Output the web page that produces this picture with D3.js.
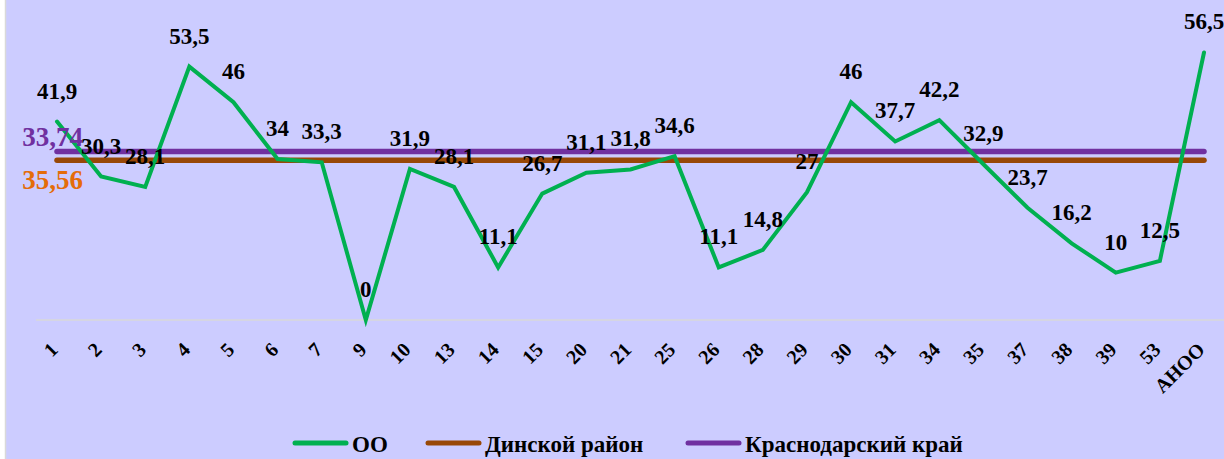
<!DOCTYPE html>
<html>
<head>
<meta charset="utf-8">
<script src="https://cdn.jsdelivr.net/npm/d3@7"></script>
<style>
  html, body { margin: 0; padding: 0; background: #ffffff; }
  svg { display: block; }
</style>
</head>
<body>
<div id="chart"></div>
<script>
// categories (school numbers) and values of the OO series
const categories = ['1', '2', '3', '4', '5', '6', '7', '9', '10', '13', '14', '15', '20', '21', '25',
  '26', '28', '29', '30', '31', '34', '35', '37', '38', '39', '53', 'АНОО'];
const ooValues = [41.9, 30.3, 28.1, 53.5, 46, 34, 33.3, 0, 31.9, 28.1, 11.1, 26.7, 31.1, 31.8, 34.6,
  11.1, 14.8, 27, 46, 37.7, 42.2, 32.9, 23.7, 16.2, 10, 12.5, 56.5];
const districtValue = 33.74;   // Динской район
const regionValue = 35.56;     // Краснодарский край
const seriesNames = ['ОО', 'Динской район', 'Краснодарский край'];
const seriesColors = ['#00b050', '#984807', '#7030a0'];

const width = 1224, height = 459;
const fmt = v => String(v).replace('.', ',');

const svg = d3.select('#chart').append('svg')
  .attr('width', width)
  .attr('height', height);

// chart area background and left border
svg.append('rect')
  .attr('x', 6).attr('y', 0)
  .attr('width', width - 6).attr('height', height)
  .attr('fill', '#ccccff');
svg.append('line')
  .attr('x1', 5.5).attr('x2', 5.5)
  .attr('y1', 0).attr('y2', height)
  .attr('stroke', '#d9d9d9')
  .attr('stroke-width', 1.5);

const x = d3.scalePoint()
  .domain(categories)
  .range([57, 1204]);

const y = d3.scaleLinear()
  .domain([0, 60])
  .range([320, 35.9]);

// category axis line
svg.append('line')
  .attr('x1', 36).attr('x2', width)
  .attr('y1', y(0)).attr('y2', y(0))
  .attr('stroke', '#d9d9d9')
  .attr('stroke-width', 1.5);

// rotated tick labels
svg.append('g')
  .selectAll('text')
  .data(categories)
  .join('text')
  .attr('transform', d => `translate(${x(d) + 2}, 351) rotate(-45)`)
  .attr('text-anchor', 'end')
  .attr('font-family', '"Liberation Serif", "Times New Roman", serif')
  .attr('font-weight', 'bold')
  .attr('font-size', '20px')
  .attr('fill', '#000')
  .text(d => d);

// reference lines
const refLine = (value, color) => {
  svg.append('line')
    .attr('x1', x(categories[0])).attr('x2', x(categories[categories.length - 1]))
    .attr('y1', y(value)).attr('y2', y(value))
    .attr('stroke', color)
    .attr('stroke-width', 5.5)
    .attr('stroke-linecap', 'round');
};
refLine(districtValue, seriesColors[1]);
refLine(regionValue, seriesColors[2]);

// OO line
const line = d3.line()
  .x((d, i) => x(categories[i]))
  .y(d => y(d));

svg.append('path')
  .datum(ooValues)
  .attr('d', line)
  .attr('fill', 'none')
  .attr('stroke', seriesColors[0])
  .attr('stroke-width', 4)
  .attr('stroke-linejoin', 'miter')
  .attr('stroke-linecap', 'round');

// data labels
svg.append('g')
  .selectAll('text')
  .data(ooValues)
  .join('text')
  .attr('x', (d, i) => x(categories[i]))
  .attr('y', d => y(d) - 23)
  .attr('text-anchor', 'middle')
  .attr('font-family', '"Liberation Serif", "Times New Roman", serif')
  .attr('font-weight', 'bold')
  .attr('font-size', '23px')
  .attr('fill', '#000')
  .text(d => fmt(d));

// labels of the reference lines (as placed in the original)
svg.append('text')
  .attr('x', 83).attr('y', y(regionValue) - 6)
  .attr('text-anchor', 'end')
  .attr('font-family', '"Liberation Serif", "Times New Roman", serif')
  .attr('font-weight', 'bold')
  .attr('font-size', '27px')
  .attr('fill', '#7030a0')
  .text(fmt(districtValue));
svg.append('text')
  .attr('x', 83).attr('y', y(districtValue) + 29)
  .attr('text-anchor', 'end')
  .attr('font-family', '"Liberation Serif", "Times New Roman", serif')
  .attr('font-weight', 'bold')
  .attr('font-size', '27px')
  .attr('fill', '#e46c0a')
  .text(fmt(regionValue));

// legend
const legendX = [293, 426, 686];
const legend = svg.append('g')
  .selectAll('g')
  .data(seriesNames)
  .join('g')
  .attr('transform', (d, i) => `translate(${legendX[i]}, 443)`);

legend.append('line')
  .attr('x1', 2).attr('x2', 53)
  .attr('stroke', (d, i) => seriesColors[i])
  .attr('stroke-width', 5)
  .attr('stroke-linecap', 'round');

legend.append('text')
  .attr('x', 59)
  .attr('y', 9)
  .attr('font-family', '"Liberation Serif", "Times New Roman", serif')
  .attr('font-weight', 'bold')
  .attr('font-size', '23px')
  .attr('fill', '#000')
  .text(d => d);
</script>
</body>
</html>
